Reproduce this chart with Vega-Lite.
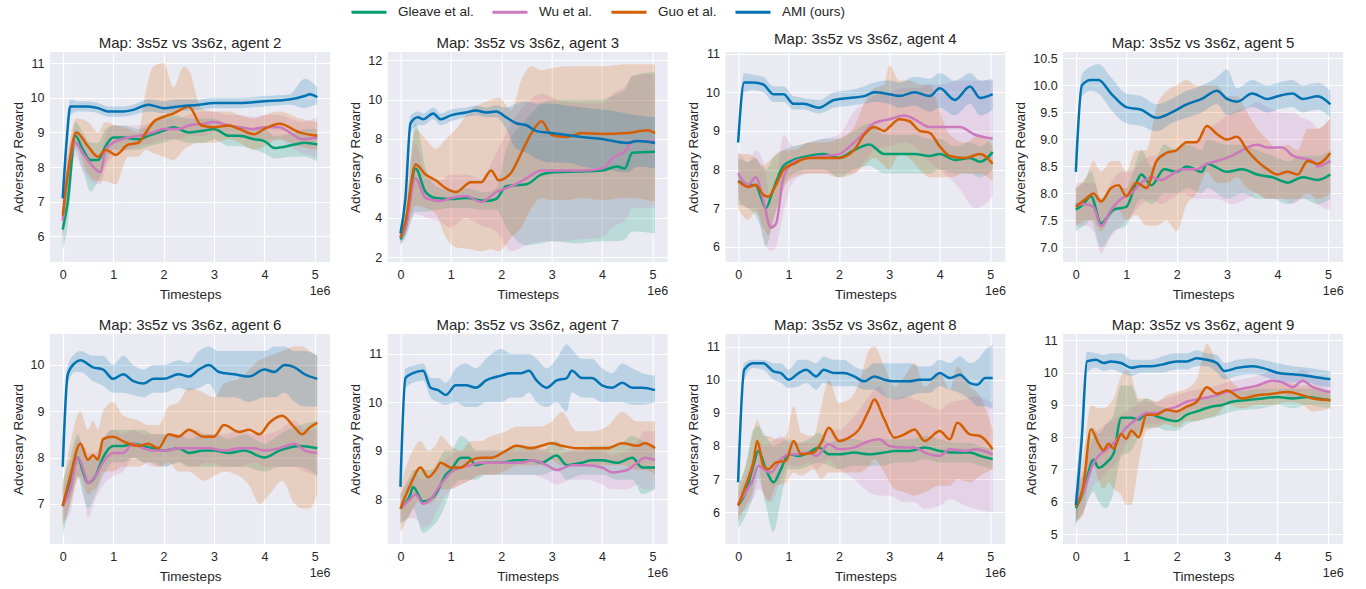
{
"$schema":"https://vega.github.io/schema/vega-lite/v6.json",
"padding":{"left":11,"top":-7,"right":5,"bottom":5},
"columns":4,
"spacing":{"row":72,"column":57.7},
"bounds":"flush",
"datasets":{
"a2":[
{"s":"G","x":0,"m":6.2,"l":5.6,"h":6.8},{"s":"G","x":0.1,"m":7.0,"l":6.3,"h":7.6},{"s":"G","x":0.25,"m":8.9,"l":8.5,"h":9.3},{"s":"G","x":0.4,"m":8.5,"l":7.9,"h":9.0},{"s":"G","x":0.55,"m":8.2,"l":7.3,"h":8.7},{"s":"G","x":0.7,"m":8.2,"l":7.6,"h":8.7},{"s":"G","x":0.85,"m":8.6,"l":8.1,"h":9.1},{"s":"G","x":1.0,"m":8.85,"l":8.5,"h":9.2},{"s":"G","x":1.2,"m":8.85,"l":8.5,"h":9.2},{"s":"G","x":1.5,"m":8.8,"l":8.5,"h":9.1},{"s":"G","x":1.7,"m":8.9,"l":8.6,"h":9.2},{"s":"G","x":2.0,"m":9.05,"l":8.7,"h":9.5},{"s":"G","x":2.2,"m":9.15,"l":8.8,"h":9.5},{"s":"G","x":2.5,"m":9.0,"l":8.7,"h":9.4},{"s":"G","x":2.8,"m":9.05,"l":8.7,"h":9.4},{"s":"G","x":3.0,"m":9.1,"l":8.8,"h":9.4},{"s":"G","x":3.3,"m":8.9,"l":8.6,"h":9.2},{"s":"G","x":3.5,"m":8.9,"l":8.6,"h":9.2},{"s":"G","x":3.8,"m":8.8,"l":8.5,"h":9.1},{"s":"G","x":4.0,"m":8.75,"l":8.4,"h":9.1},{"s":"G","x":4.2,"m":8.55,"l":8.25,"h":8.9},{"s":"G","x":4.6,"m":8.65,"l":8.3,"h":9.0},{"s":"G","x":4.8,"m":8.7,"l":8.3,"h":9.1},{"s":"G","x":5.05,"m":8.65,"l":8.15,"h":9.1},
{"s":"W","x":0,"m":6.45,"l":5.8,"h":7.0},{"s":"W","x":0.1,"m":7.8,"l":7.2,"h":8.3},{"s":"W","x":0.25,"m":8.7,"l":8.3,"h":9.1},{"s":"W","x":0.4,"m":8.4,"l":7.9,"h":8.9},{"s":"W","x":0.55,"m":8.1,"l":7.6,"h":8.6},{"s":"W","x":0.75,"m":7.85,"l":7.5,"h":8.3},{"s":"W","x":0.85,"m":8.5,"l":8.0,"h":8.9},{"s":"W","x":1.0,"m":8.7,"l":8.3,"h":9.2},{"s":"W","x":1.3,"m":8.85,"l":8.5,"h":9.2},{"s":"W","x":1.5,"m":8.9,"l":8.6,"h":9.2},{"s":"W","x":1.8,"m":9.0,"l":8.7,"h":9.3},{"s":"W","x":2.0,"m":9.1,"l":8.8,"h":9.4},{"s":"W","x":2.3,"m":9.1,"l":8.8,"h":9.4},{"s":"W","x":2.5,"m":9.2,"l":8.9,"h":9.5},{"s":"W","x":2.8,"m":9.25,"l":8.9,"h":9.6},{"s":"W","x":3.0,"m":9.3,"l":9.0,"h":9.6},{"s":"W","x":3.3,"m":9.2,"l":8.9,"h":9.5},{"s":"W","x":3.5,"m":9.15,"l":8.85,"h":9.5},{"s":"W","x":3.8,"m":9.1,"l":8.8,"h":9.45},{"s":"W","x":4.0,"m":9.15,"l":8.8,"h":9.5},{"s":"W","x":4.3,"m":9.15,"l":8.8,"h":9.5},{"s":"W","x":4.5,"m":9.0,"l":8.6,"h":9.4},{"s":"W","x":4.75,"m":8.8,"l":8.4,"h":9.3},{"s":"W","x":5.05,"m":8.85,"l":8.3,"h":9.45},
{"s":"O","x":0,"m":6.6,"l":5.9,"h":7.2},{"s":"O","x":0.1,"m":7.8,"l":7.2,"h":8.4},{"s":"O","x":0.27,"m":9.0,"l":8.6,"h":9.4},{"s":"O","x":0.5,"m":8.6,"l":7.8,"h":9.3},{"s":"O","x":0.7,"m":8.3,"l":7.6,"h":9.0},{"s":"O","x":0.85,"m":8.5,"l":7.6,"h":9.3},{"s":"O","x":1.05,"m":8.35,"l":7.5,"h":9.2},{"s":"O","x":1.3,"m":8.65,"l":8.3,"h":9.1},{"s":"O","x":1.5,"m":8.7,"l":8.3,"h":9.0},{"s":"O","x":1.65,"m":9.0,"l":8.5,"h":10.2},{"s":"O","x":1.8,"m":9.3,"l":8.4,"h":10.9},{"s":"O","x":2.0,"m":9.45,"l":8.3,"h":11.0},{"s":"O","x":2.2,"m":9.55,"l":8.2,"h":10.3},{"s":"O","x":2.4,"m":9.7,"l":8.5,"h":10.9},{"s":"O","x":2.5,"m":9.75,"l":8.6,"h":10.8},{"s":"O","x":2.75,"m":9.2,"l":8.7,"h":9.7},{"s":"O","x":3.0,"m":9.15,"l":8.7,"h":9.6},{"s":"O","x":3.3,"m":9.2,"l":8.8,"h":9.6},{"s":"O","x":3.5,"m":9.1,"l":8.7,"h":9.5},{"s":"O","x":3.8,"m":8.95,"l":8.5,"h":9.4},{"s":"O","x":4.0,"m":9.1,"l":8.6,"h":9.5},{"s":"O","x":4.3,"m":9.25,"l":8.8,"h":9.6},{"s":"O","x":4.7,"m":9.0,"l":8.6,"h":9.4},{"s":"O","x":5.05,"m":8.9,"l":8.5,"h":9.3},
{"s":"A","x":0,"m":7.1,"l":6.9,"h":7.3},{"s":"A","x":0.08,"m":8.8,"l":8.5,"h":9.1},{"s":"A","x":0.15,"m":9.75,"l":9.5,"h":9.95},{"s":"A","x":0.3,"m":9.75,"l":9.6,"h":9.9},{"s":"A","x":0.5,"m":9.75,"l":9.6,"h":9.9},{"s":"A","x":0.7,"m":9.7,"l":9.55,"h":9.85},{"s":"A","x":0.9,"m":9.6,"l":9.45,"h":9.75},{"s":"A","x":1.2,"m":9.6,"l":9.45,"h":9.75},{"s":"A","x":1.4,"m":9.65,"l":9.5,"h":9.8},{"s":"A","x":1.7,"m":9.8,"l":9.6,"h":9.95},{"s":"A","x":2.0,"m":9.7,"l":9.55,"h":9.9},{"s":"A","x":2.3,"m":9.75,"l":9.6,"h":9.95},{"s":"A","x":2.7,"m":9.8,"l":9.65,"h":9.95},{"s":"A","x":3.0,"m":9.85,"l":9.7,"h":10.0},{"s":"A","x":3.5,"m":9.85,"l":9.7,"h":10.0},{"s":"A","x":4.0,"m":9.9,"l":9.75,"h":10.05},{"s":"A","x":4.5,"m":9.95,"l":9.8,"h":10.1},{"s":"A","x":4.8,"m":10.05,"l":9.7,"h":10.55},{"s":"A","x":4.9,"m":10.1,"l":9.75,"h":10.5},{"s":"A","x":5.05,"m":10.02,"l":9.8,"h":10.3}
],
"a3":[
{"s":"G","x":0,"m":2.9,"l":2.6,"h":3.2},{"s":"G","x":0.1,"m":3.5,"l":3.0,"h":4.0},{"s":"G","x":0.3,"m":6.5,"l":4.3,"h":8.8},{"s":"G","x":0.5,"m":5.3,"l":4.3,"h":6.5},{"s":"G","x":0.7,"m":5.0,"l":4.4,"h":5.6},{"s":"G","x":1.0,"m":4.95,"l":4.5,"h":5.4},{"s":"G","x":1.3,"m":5.0,"l":4.5,"h":5.5},{"s":"G","x":1.7,"m":4.85,"l":4.4,"h":5.3},{"s":"G","x":1.9,"m":4.95,"l":4.4,"h":5.5},{"s":"G","x":2.1,"m":5.6,"l":3.5,"h":7.5},{"s":"G","x":2.5,"m":5.7,"l":2.6,"h":9.0},{"s":"G","x":2.8,"m":6.2,"l":2.7,"h":9.8},{"s":"G","x":3.0,"m":6.3,"l":2.8,"h":10.0},{"s":"G","x":3.5,"m":6.35,"l":2.7,"h":10.0},{"s":"G","x":4.0,"m":6.4,"l":2.8,"h":10.0},{"s":"G","x":4.3,"m":6.6,"l":2.8,"h":10.3},{"s":"G","x":4.45,"m":6.5,"l":2.9,"h":10.5},{"s":"G","x":4.6,"m":7.3,"l":3.3,"h":11.2},{"s":"G","x":5.05,"m":7.35,"l":3.2,"h":11.4},
{"s":"W","x":0,"m":3.0,"l":2.7,"h":3.3},{"s":"W","x":0.1,"m":3.5,"l":3.0,"h":4.0},{"s":"W","x":0.3,"m":6.0,"l":4.2,"h":7.8},{"s":"W","x":0.5,"m":5.0,"l":4.0,"h":6.0},{"s":"W","x":0.8,"m":4.85,"l":3.8,"h":5.9},{"s":"W","x":1.0,"m":5.0,"l":3.5,"h":6.2},{"s":"W","x":1.3,"m":5.1,"l":4.0,"h":6.2},{"s":"W","x":1.6,"m":4.8,"l":3.6,"h":6.0},{"s":"W","x":1.9,"m":5.3,"l":3.3,"h":7.3},{"s":"W","x":2.2,"m":5.6,"l":2.3,"h":8.8},{"s":"W","x":2.5,"m":6.0,"l":2.6,"h":9.8},{"s":"W","x":2.8,"m":6.4,"l":2.8,"h":10.3},{"s":"W","x":3.2,"m":6.4,"l":2.8,"h":9.9},{"s":"W","x":3.6,"m":6.4,"l":2.9,"h":9.8},{"s":"W","x":4.0,"m":6.5,"l":3.0,"h":9.8},{"s":"W","x":4.2,"m":7.0,"l":3.5,"h":10.3},{"s":"W","x":4.5,"m":7.5,"l":4.0,"h":10.8},{"s":"W","x":4.6,"m":7.9,"l":4.5,"h":11.2},{"s":"W","x":5.05,"m":7.9,"l":4.5,"h":11.3},
{"s":"O","x":0,"m":3.0,"l":2.7,"h":3.3},{"s":"O","x":0.1,"m":3.8,"l":3.2,"h":4.4},{"s":"O","x":0.3,"m":6.7,"l":4.6,"h":8.5},{"s":"O","x":0.5,"m":6.2,"l":4.5,"h":8.0},{"s":"O","x":0.7,"m":5.9,"l":4.2,"h":7.5},{"s":"O","x":0.9,"m":5.5,"l":3.0,"h":8.0},{"s":"O","x":1.1,"m":5.3,"l":2.5,"h":8.5},{"s":"O","x":1.4,"m":5.8,"l":2.4,"h":9.5},{"s":"O","x":1.6,"m":5.8,"l":2.3,"h":9.8},{"s":"O","x":1.8,"m":6.4,"l":2.4,"h":10.0},{"s":"O","x":1.95,"m":5.9,"l":2.3,"h":10.1},{"s":"O","x":2.2,"m":6.3,"l":3.0,"h":9.5},{"s":"O","x":2.4,"m":7.3,"l":3.5,"h":11.0},{"s":"O","x":2.6,"m":8.3,"l":4.5,"h":11.7},{"s":"O","x":2.8,"m":8.9,"l":5.0,"h":11.5},{"s":"O","x":3.0,"m":8.2,"l":4.9,"h":11.6},{"s":"O","x":3.3,"m":8.1,"l":4.9,"h":11.7},{"s":"O","x":3.6,"m":8.3,"l":5.0,"h":11.7},{"s":"O","x":4.0,"m":8.25,"l":4.9,"h":11.7},{"s":"O","x":4.5,"m":8.3,"l":5.0,"h":11.8},{"s":"O","x":4.9,"m":8.45,"l":4.9,"h":11.8},{"s":"O","x":5.05,"m":8.3,"l":4.8,"h":11.8},
{"s":"A","x":0,"m":3.2,"l":2.9,"h":3.5},{"s":"A","x":0.1,"m":5.0,"l":4.5,"h":5.5},{"s":"A","x":0.2,"m":8.8,"l":8.3,"h":9.2},{"s":"A","x":0.35,"m":9.1,"l":8.7,"h":9.4},{"s":"A","x":0.45,"m":9.0,"l":8.7,"h":9.3},{"s":"A","x":0.65,"m":9.3,"l":9.0,"h":9.6},{"s":"A","x":0.8,"m":9.0,"l":8.7,"h":9.3},{"s":"A","x":1.0,"m":9.2,"l":8.9,"h":9.5},{"s":"A","x":1.3,"m":9.35,"l":9.1,"h":9.6},{"s":"A","x":1.5,"m":9.45,"l":9.2,"h":9.7},{"s":"A","x":1.7,"m":9.35,"l":9.1,"h":9.6},{"s":"A","x":1.9,"m":9.4,"l":9.1,"h":9.7},{"s":"A","x":2.1,"m":9.1,"l":8.5,"h":9.6},{"s":"A","x":2.3,"m":8.8,"l":7.5,"h":9.8},{"s":"A","x":2.5,"m":8.7,"l":7.3,"h":9.9},{"s":"A","x":2.7,"m":8.4,"l":7.0,"h":9.8},{"s":"A","x":3.0,"m":8.3,"l":6.8,"h":9.8},{"s":"A","x":3.3,"m":8.2,"l":6.8,"h":9.7},{"s":"A","x":3.6,"m":8.1,"l":6.6,"h":9.6},{"s":"A","x":4.0,"m":8.0,"l":6.5,"h":9.5},{"s":"A","x":4.5,"m":7.8,"l":6.3,"h":9.3},{"s":"A","x":4.7,"m":7.9,"l":6.6,"h":9.2},{"s":"A","x":5.05,"m":7.8,"l":6.5,"h":9.1}
],
"a4":[
{"s":"G","x":0,"m":7.7,"l":7.1,"h":8.3},{"s":"G","x":0.2,"m":7.6,"l":7.0,"h":8.2},{"s":"G","x":0.35,"m":7.6,"l":6.8,"h":8.3},{"s":"G","x":0.45,"m":7.3,"l":6.5,"h":8.1},{"s":"G","x":0.55,"m":7.0,"l":6.0,"h":8.0},{"s":"G","x":0.7,"m":7.5,"l":6.7,"h":8.3},{"s":"G","x":0.9,"m":8.1,"l":7.6,"h":8.5},{"s":"G","x":1.1,"m":8.25,"l":7.9,"h":8.6},{"s":"G","x":1.4,"m":8.35,"l":8.0,"h":8.7},{"s":"G","x":1.7,"m":8.4,"l":8.0,"h":8.8},{"s":"G","x":2.0,"m":8.3,"l":7.8,"h":8.8},{"s":"G","x":2.3,"m":8.5,"l":8.0,"h":9.0},{"s":"G","x":2.6,"m":8.65,"l":8.1,"h":9.2},{"s":"G","x":2.9,"m":8.4,"l":7.9,"h":8.9},{"s":"G","x":3.2,"m":8.4,"l":7.9,"h":8.9},{"s":"G","x":3.5,"m":8.4,"l":7.9,"h":8.9},{"s":"G","x":3.8,"m":8.35,"l":7.9,"h":8.8},{"s":"G","x":4.0,"m":8.4,"l":8.0,"h":8.8},{"s":"G","x":4.3,"m":8.25,"l":7.9,"h":8.6},{"s":"G","x":4.6,"m":8.3,"l":7.9,"h":8.7},{"s":"G","x":4.8,"m":8.2,"l":7.8,"h":8.6},{"s":"G","x":5.05,"m":8.45,"l":8.0,"h":8.9},
{"s":"W","x":0,"m":7.9,"l":7.3,"h":8.5},{"s":"W","x":0.2,"m":7.6,"l":7.0,"h":8.2},{"s":"W","x":0.35,"m":7.8,"l":7.0,"h":8.5},{"s":"W","x":0.5,"m":7.2,"l":6.2,"h":8.2},{"s":"W","x":0.65,"m":6.5,"l":5.9,"h":7.2},{"s":"W","x":0.75,"m":6.6,"l":6.0,"h":7.6},{"s":"W","x":0.9,"m":7.8,"l":6.9,"h":8.9},{"s":"W","x":1.1,"m":8.2,"l":7.7,"h":8.6},{"s":"W","x":1.4,"m":8.3,"l":7.9,"h":8.7},{"s":"W","x":1.7,"m":8.35,"l":7.9,"h":8.8},{"s":"W","x":2.0,"m":8.4,"l":7.9,"h":8.9},{"s":"W","x":2.3,"m":8.7,"l":7.9,"h":9.5},{"s":"W","x":2.5,"m":8.95,"l":8.2,"h":9.7},{"s":"W","x":2.7,"m":9.2,"l":8.5,"h":9.9},{"s":"W","x":3.0,"m":9.3,"l":8.6,"h":10.0},{"s":"W","x":3.3,"m":9.4,"l":8.7,"h":10.1},{"s":"W","x":3.5,"m":9.3,"l":8.6,"h":10.1},{"s":"W","x":3.8,"m":9.1,"l":8.2,"h":10.2},{"s":"W","x":4.0,"m":9.1,"l":8.0,"h":10.2},{"s":"W","x":4.4,"m":9.1,"l":7.5,"h":10.3},{"s":"W","x":4.7,"m":8.9,"l":7.0,"h":10.3},{"s":"W","x":5.05,"m":8.8,"l":7.3,"h":10.3},
{"s":"O","x":0,"m":7.7,"l":7.0,"h":8.4},{"s":"O","x":0.2,"m":7.55,"l":6.7,"h":8.4},{"s":"O","x":0.35,"m":7.6,"l":6.9,"h":8.3},{"s":"O","x":0.5,"m":7.35,"l":6.5,"h":8.1},{"s":"O","x":0.6,"m":7.3,"l":6.3,"h":8.2},{"s":"O","x":0.75,"m":7.6,"l":6.9,"h":8.4},{"s":"O","x":0.9,"m":8.0,"l":7.5,"h":8.5},{"s":"O","x":1.1,"m":8.15,"l":7.8,"h":8.5},{"s":"O","x":1.4,"m":8.3,"l":7.9,"h":8.7},{"s":"O","x":1.7,"m":8.3,"l":7.9,"h":8.7},{"s":"O","x":2.0,"m":8.3,"l":7.8,"h":8.8},{"s":"O","x":2.3,"m":8.5,"l":7.9,"h":9.1},{"s":"O","x":2.5,"m":8.9,"l":8.1,"h":9.7},{"s":"O","x":2.7,"m":9.1,"l":8.3,"h":10.1},{"s":"O","x":2.9,"m":9.0,"l":8.1,"h":10.2},{"s":"O","x":3.0,"m":9.1,"l":8.0,"h":10.7},{"s":"O","x":3.2,"m":9.3,"l":8.4,"h":10.3},{"s":"O","x":3.4,"m":9.25,"l":8.3,"h":10.3},{"s":"O","x":3.6,"m":9.0,"l":8.0,"h":10.2},{"s":"O","x":3.8,"m":8.95,"l":7.8,"h":10.2},{"s":"O","x":4.0,"m":8.6,"l":7.8,"h":9.5},{"s":"O","x":4.2,"m":8.35,"l":7.8,"h":8.9},{"s":"O","x":4.5,"m":8.3,"l":7.9,"h":8.7},{"s":"O","x":4.8,"m":8.4,"l":7.9,"h":8.9},{"s":"O","x":5.05,"m":8.15,"l":7.7,"h":8.6},
{"s":"A","x":0,"m":8.7,"l":8.5,"h":8.9},{"s":"A","x":0.12,"m":10.25,"l":10.0,"h":10.5},{"s":"A","x":0.3,"m":10.25,"l":10.05,"h":10.45},{"s":"A","x":0.5,"m":10.2,"l":10.0,"h":10.4},{"s":"A","x":0.7,"m":9.95,"l":9.75,"h":10.15},{"s":"A","x":0.9,"m":9.95,"l":9.75,"h":10.15},{"s":"A","x":1.1,"m":9.7,"l":9.55,"h":9.9},{"s":"A","x":1.3,"m":9.7,"l":9.55,"h":9.85},{"s":"A","x":1.6,"m":9.6,"l":9.45,"h":9.8},{"s":"A","x":1.9,"m":9.8,"l":9.6,"h":10.0},{"s":"A","x":2.2,"m":9.85,"l":9.65,"h":10.05},{"s":"A","x":2.5,"m":9.9,"l":9.7,"h":10.15},{"s":"A","x":2.7,"m":10.0,"l":9.75,"h":10.25},{"s":"A","x":3.0,"m":9.95,"l":9.7,"h":10.3},{"s":"A","x":3.2,"m":9.9,"l":9.6,"h":10.25},{"s":"A","x":3.5,"m":10.0,"l":9.65,"h":10.4},{"s":"A","x":3.8,"m":9.9,"l":9.5,"h":10.35},{"s":"A","x":4.0,"m":10.1,"l":9.6,"h":10.5},{"s":"A","x":4.3,"m":9.8,"l":9.4,"h":10.3},{"s":"A","x":4.6,"m":10.15,"l":9.7,"h":10.5},{"s":"A","x":4.8,"m":9.85,"l":9.4,"h":10.3},{"s":"A","x":5.05,"m":9.95,"l":9.55,"h":10.35}
],
"a5":[
{"s":"G","x":0,"m":7.7,"l":7.3,"h":8.1},{"s":"G","x":0.15,"m":7.8,"l":7.4,"h":8.2},{"s":"G","x":0.3,"m":7.95,"l":7.5,"h":8.4},{"s":"G","x":0.5,"m":7.45,"l":7.0,"h":7.9},{"s":"G","x":0.75,"m":7.7,"l":7.3,"h":8.1},{"s":"G","x":1.0,"m":7.75,"l":7.4,"h":8.1},{"s":"G","x":1.2,"m":8.2,"l":7.8,"h":8.6},{"s":"G","x":1.3,"m":8.35,"l":7.9,"h":8.8},{"s":"G","x":1.5,"m":8.15,"l":7.8,"h":8.5},{"s":"G","x":1.75,"m":8.45,"l":8.0,"h":8.9},{"s":"G","x":2.0,"m":8.4,"l":8.0,"h":8.8},{"s":"G","x":2.2,"m":8.5,"l":8.1,"h":8.9},{"s":"G","x":2.5,"m":8.4,"l":8.0,"h":8.8},{"s":"G","x":2.6,"m":8.55,"l":8.1,"h":9.0},{"s":"G","x":3.0,"m":8.4,"l":7.9,"h":8.9},{"s":"G","x":3.3,"m":8.45,"l":8.0,"h":8.9},{"s":"G","x":3.6,"m":8.35,"l":7.9,"h":8.8},{"s":"G","x":3.9,"m":8.3,"l":7.9,"h":8.7},{"s":"G","x":4.2,"m":8.2,"l":7.8,"h":8.6},{"s":"G","x":4.5,"m":8.3,"l":7.9,"h":8.7},{"s":"G","x":4.8,"m":8.25,"l":7.8,"h":8.7},{"s":"G","x":5.05,"m":8.35,"l":7.9,"h":8.8},
{"s":"W","x":0,"m":7.8,"l":7.4,"h":8.2},{"s":"W","x":0.2,"m":7.8,"l":7.4,"h":8.2},{"s":"W","x":0.35,"m":7.75,"l":7.3,"h":8.2},{"s":"W","x":0.5,"m":7.4,"l":6.9,"h":7.9},{"s":"W","x":0.7,"m":7.7,"l":7.2,"h":8.2},{"s":"W","x":0.9,"m":7.9,"l":7.4,"h":8.4},{"s":"W","x":1.1,"m":8.0,"l":7.6,"h":8.4},{"s":"W","x":1.3,"m":8.2,"l":7.8,"h":8.6},{"s":"W","x":1.5,"m":8.3,"l":7.9,"h":8.7},{"s":"W","x":1.7,"m":8.25,"l":7.8,"h":8.7},{"s":"W","x":1.9,"m":8.35,"l":7.9,"h":8.8},{"s":"W","x":2.1,"m":8.45,"l":8.0,"h":8.9},{"s":"W","x":2.4,"m":8.45,"l":7.9,"h":9.0},{"s":"W","x":2.6,"m":8.55,"l":7.9,"h":9.2},{"s":"W","x":2.8,"m":8.6,"l":7.9,"h":9.3},{"s":"W","x":3.1,"m":8.7,"l":7.8,"h":9.5},{"s":"W","x":3.4,"m":8.85,"l":7.9,"h":9.6},{"s":"W","x":3.6,"m":8.9,"l":8.0,"h":9.7},{"s":"W","x":3.8,"m":8.85,"l":7.9,"h":9.6},{"s":"W","x":4.1,"m":8.85,"l":7.9,"h":9.5},{"s":"W","x":4.3,"m":8.7,"l":7.8,"h":9.5},{"s":"W","x":4.5,"m":8.65,"l":7.9,"h":9.4},{"s":"W","x":4.7,"m":8.6,"l":7.9,"h":9.3},{"s":"W","x":4.8,"m":8.5,"l":7.8,"h":9.2},{"s":"W","x":5.05,"m":8.6,"l":7.7,"h":9.4},
{"s":"O","x":0,"m":7.75,"l":7.4,"h":8.1},{"s":"O","x":0.2,"m":7.9,"l":7.5,"h":8.3},{"s":"O","x":0.35,"m":8.0,"l":7.5,"h":8.6},{"s":"O","x":0.5,"m":7.85,"l":7.3,"h":8.4},{"s":"O","x":0.7,"m":8.1,"l":7.6,"h":8.6},{"s":"O","x":0.85,"m":8.15,"l":7.7,"h":8.6},{"s":"O","x":1.0,"m":7.95,"l":7.5,"h":8.4},{"s":"O","x":1.2,"m":8.2,"l":7.6,"h":8.8},{"s":"O","x":1.4,"m":8.1,"l":7.4,"h":8.8},{"s":"O","x":1.6,"m":8.6,"l":7.4,"h":9.6},{"s":"O","x":1.8,"m":8.75,"l":7.5,"h":9.9},{"s":"O","x":2.0,"m":8.8,"l":7.3,"h":10.0},{"s":"O","x":2.2,"m":8.95,"l":7.8,"h":10.1},{"s":"O","x":2.4,"m":8.95,"l":8.0,"h":10.0},{"s":"O","x":2.6,"m":9.25,"l":8.4,"h":10.0},{"s":"O","x":2.8,"m":9.1,"l":8.2,"h":10.0},{"s":"O","x":3.0,"m":9.0,"l":8.2,"h":9.8},{"s":"O","x":3.2,"m":9.05,"l":8.3,"h":9.8},{"s":"O","x":3.4,"m":8.8,"l":8.1,"h":9.5},{"s":"O","x":3.6,"m":8.6,"l":8.0,"h":9.2},{"s":"O","x":3.8,"m":8.45,"l":7.9,"h":9.0},{"s":"O","x":4.0,"m":8.35,"l":7.9,"h":8.8},{"s":"O","x":4.2,"m":8.4,"l":7.9,"h":8.9},{"s":"O","x":4.4,"m":8.35,"l":7.9,"h":8.8},{"s":"O","x":4.6,"m":8.6,"l":8.0,"h":9.2},{"s":"O","x":4.8,"m":8.55,"l":7.9,"h":9.2},{"s":"O","x":5.05,"m":8.75,"l":8.0,"h":9.4},
{"s":"A","x":0,"m":8.4,"l":8.2,"h":8.6},{"s":"A","x":0.12,"m":10.0,"l":9.8,"h":10.2},{"s":"A","x":0.3,"m":10.1,"l":9.9,"h":10.35},{"s":"A","x":0.45,"m":10.1,"l":9.85,"h":10.4},{"s":"A","x":0.7,"m":9.85,"l":9.55,"h":10.15},{"s":"A","x":1.0,"m":9.6,"l":9.3,"h":9.85},{"s":"A","x":1.3,"m":9.55,"l":9.25,"h":9.8},{"s":"A","x":1.6,"m":9.4,"l":9.15,"h":9.65},{"s":"A","x":1.9,"m":9.5,"l":9.3,"h":9.75},{"s":"A","x":2.2,"m":9.65,"l":9.4,"h":9.9},{"s":"A","x":2.5,"m":9.75,"l":9.5,"h":10.0},{"s":"A","x":2.8,"m":9.9,"l":9.65,"h":10.15},{"s":"A","x":3.0,"m":9.75,"l":9.45,"h":10.3},{"s":"A","x":3.2,"m":9.7,"l":9.5,"h":9.95},{"s":"A","x":3.5,"m":9.85,"l":9.6,"h":10.1},{"s":"A","x":3.8,"m":9.75,"l":9.5,"h":10.0},{"s":"A","x":4.0,"m":9.8,"l":9.55,"h":10.05},{"s":"A","x":4.3,"m":9.85,"l":9.6,"h":10.1},{"s":"A","x":4.5,"m":9.75,"l":9.5,"h":10.0},{"s":"A","x":4.8,"m":9.8,"l":9.55,"h":10.05},{"s":"A","x":5.05,"m":9.65,"l":9.4,"h":9.9}
],
"a6":[
{"s":"G","x":0,"m":6.95,"l":6.3,"h":7.5},{"s":"G","x":0.15,"m":7.5,"l":7.0,"h":8.0},{"s":"G","x":0.3,"m":8.0,"l":7.6,"h":8.5},{"s":"G","x":0.4,"m":7.7,"l":7.2,"h":8.2},{"s":"G","x":0.5,"m":7.45,"l":6.9,"h":8.0},{"s":"G","x":0.65,"m":7.6,"l":7.2,"h":8.0},{"s":"G","x":0.8,"m":8.0,"l":7.6,"h":8.4},{"s":"G","x":1.0,"m":8.25,"l":7.9,"h":8.6},{"s":"G","x":1.2,"m":8.25,"l":7.9,"h":8.6},{"s":"G","x":1.4,"m":8.3,"l":8.0,"h":8.6},{"s":"G","x":1.6,"m":8.25,"l":7.9,"h":8.6},{"s":"G","x":1.8,"m":8.2,"l":7.9,"h":8.5},{"s":"G","x":2.0,"m":8.15,"l":7.8,"h":8.5},{"s":"G","x":2.3,"m":8.2,"l":7.9,"h":8.5},{"s":"G","x":2.5,"m":8.1,"l":7.8,"h":8.4},{"s":"G","x":2.8,"m":8.15,"l":7.8,"h":8.5},{"s":"G","x":3.0,"m":8.15,"l":7.8,"h":8.5},{"s":"G","x":3.3,"m":8.1,"l":7.8,"h":8.4},{"s":"G","x":3.6,"m":8.15,"l":7.8,"h":8.5},{"s":"G","x":4.0,"m":8.0,"l":7.7,"h":8.3},{"s":"G","x":4.3,"m":8.15,"l":7.8,"h":8.5},{"s":"G","x":4.7,"m":8.25,"l":7.8,"h":8.7},{"s":"G","x":5.05,"m":8.2,"l":7.6,"h":8.8},
{"s":"W","x":0,"m":6.95,"l":6.6,"h":7.3},{"s":"W","x":0.15,"m":7.3,"l":6.8,"h":7.8},{"s":"W","x":0.3,"m":8.0,"l":7.6,"h":8.4},{"s":"W","x":0.45,"m":7.6,"l":7.0,"h":8.2},{"s":"W","x":0.5,"m":7.45,"l":6.7,"h":8.1},{"s":"W","x":0.65,"m":7.6,"l":7.1,"h":8.1},{"s":"W","x":0.8,"m":7.9,"l":7.4,"h":8.4},{"s":"W","x":1.0,"m":8.1,"l":7.6,"h":8.6},{"s":"W","x":1.2,"m":8.1,"l":7.7,"h":8.5},{"s":"W","x":1.4,"m":8.3,"l":8.0,"h":8.6},{"s":"W","x":1.6,"m":8.2,"l":7.9,"h":8.5},{"s":"W","x":1.8,"m":8.15,"l":7.8,"h":8.5},{"s":"W","x":2.0,"m":8.15,"l":7.8,"h":8.5},{"s":"W","x":2.3,"m":8.2,"l":7.9,"h":8.5},{"s":"W","x":2.6,"m":8.2,"l":7.8,"h":8.6},{"s":"W","x":2.9,"m":8.2,"l":7.9,"h":8.5},{"s":"W","x":3.2,"m":8.15,"l":7.8,"h":8.5},{"s":"W","x":3.5,"m":8.2,"l":7.8,"h":8.6},{"s":"W","x":3.8,"m":8.2,"l":7.9,"h":8.5},{"s":"W","x":4.0,"m":8.15,"l":7.8,"h":8.5},{"s":"W","x":4.3,"m":8.2,"l":7.8,"h":8.6},{"s":"W","x":4.6,"m":8.3,"l":7.8,"h":8.8},{"s":"W","x":4.8,"m":8.15,"l":7.7,"h":8.6},{"s":"W","x":5.05,"m":8.1,"l":7.6,"h":8.6},
{"s":"O","x":0,"m":6.95,"l":6.5,"h":7.4},{"s":"O","x":0.15,"m":7.6,"l":7.0,"h":8.3},{"s":"O","x":0.35,"m":8.3,"l":7.6,"h":9.0},{"s":"O","x":0.5,"m":7.95,"l":7.2,"h":8.6},{"s":"O","x":0.6,"m":8.05,"l":7.3,"h":8.8},{"s":"O","x":0.7,"m":7.95,"l":7.4,"h":8.6},{"s":"O","x":0.8,"m":8.4,"l":7.7,"h":9.0},{"s":"O","x":1.0,"m":8.45,"l":7.7,"h":9.2},{"s":"O","x":1.2,"m":8.35,"l":7.8,"h":8.9},{"s":"O","x":1.5,"m":8.25,"l":7.8,"h":8.8},{"s":"O","x":1.7,"m":8.3,"l":7.9,"h":8.7},{"s":"O","x":1.9,"m":8.2,"l":7.8,"h":8.7},{"s":"O","x":2.1,"m":8.5,"l":7.9,"h":9.1},{"s":"O","x":2.3,"m":8.45,"l":7.7,"h":9.2},{"s":"O","x":2.5,"m":8.6,"l":7.7,"h":9.5},{"s":"O","x":2.8,"m":8.45,"l":7.5,"h":9.4},{"s":"O","x":3.0,"m":8.45,"l":7.6,"h":9.3},{"s":"O","x":3.2,"m":8.7,"l":7.7,"h":9.6},{"s":"O","x":3.5,"m":8.55,"l":7.6,"h":9.7},{"s":"O","x":3.7,"m":8.6,"l":7.4,"h":9.9},{"s":"O","x":3.9,"m":8.5,"l":7.0,"h":10.1},{"s":"O","x":4.1,"m":8.75,"l":7.2,"h":10.2},{"s":"O","x":4.35,"m":8.9,"l":7.5,"h":10.3},{"s":"O","x":4.6,"m":8.65,"l":7.0,"h":10.4},{"s":"O","x":4.75,"m":8.5,"l":6.9,"h":10.4},{"s":"O","x":4.9,"m":8.65,"l":6.9,"h":10.3},{"s":"O","x":5.05,"m":8.75,"l":7.2,"h":10.2},
{"s":"A","x":0,"m":7.8,"l":7.6,"h":8.0},{"s":"A","x":0.1,"m":9.8,"l":9.6,"h":10.0},{"s":"A","x":0.25,"m":10.05,"l":9.85,"h":10.25},{"s":"A","x":0.35,"m":10.1,"l":9.85,"h":10.3},{"s":"A","x":0.6,"m":9.95,"l":9.65,"h":10.2},{"s":"A","x":0.8,"m":9.9,"l":9.55,"h":10.2},{"s":"A","x":1.0,"m":9.7,"l":9.4,"h":10.0},{"s":"A","x":1.2,"m":9.8,"l":9.4,"h":10.2},{"s":"A","x":1.4,"m":9.65,"l":9.35,"h":10.0},{"s":"A","x":1.6,"m":9.6,"l":9.3,"h":9.9},{"s":"A","x":1.8,"m":9.7,"l":9.4,"h":10.0},{"s":"A","x":2.0,"m":9.7,"l":9.4,"h":10.0},{"s":"A","x":2.3,"m":9.8,"l":9.5,"h":10.1},{"s":"A","x":2.5,"m":9.75,"l":9.45,"h":10.05},{"s":"A","x":2.7,"m":9.9,"l":9.5,"h":10.3},{"s":"A","x":2.9,"m":10.0,"l":9.6,"h":10.4},{"s":"A","x":3.1,"m":9.85,"l":9.3,"h":10.3},{"s":"A","x":3.4,"m":9.8,"l":9.3,"h":10.3},{"s":"A","x":3.7,"m":9.75,"l":9.2,"h":10.3},{"s":"A","x":4.0,"m":9.9,"l":9.3,"h":10.3},{"s":"A","x":4.2,"m":9.85,"l":9.3,"h":10.4},{"s":"A","x":4.4,"m":10.0,"l":9.4,"h":10.4},{"s":"A","x":4.6,"m":9.95,"l":9.2,"h":10.3},{"s":"A","x":4.8,"m":9.8,"l":9.1,"h":10.3},{"s":"A","x":5.05,"m":9.7,"l":9.1,"h":10.2}
],
"a7":[
{"s":"G","x":0,"m":7.8,"l":7.5,"h":8.1},{"s":"G","x":0.2,"m":8.1,"l":7.7,"h":8.5},{"s":"G","x":0.25,"m":8.25,"l":7.8,"h":8.6},{"s":"G","x":0.45,"m":7.95,"l":7.3,"h":8.6},{"s":"G","x":0.6,"m":8.0,"l":7.4,"h":8.6},{"s":"G","x":0.7,"m":8.1,"l":7.5,"h":8.7},{"s":"G","x":0.9,"m":8.5,"l":7.9,"h":9.0},{"s":"G","x":1.0,"m":8.6,"l":8.2,"h":9.0},{"s":"G","x":1.2,"m":8.85,"l":8.4,"h":9.3},{"s":"G","x":1.35,"m":8.85,"l":8.4,"h":9.2},{"s":"G","x":1.5,"m":8.7,"l":8.4,"h":9.0},{"s":"G","x":1.7,"m":8.75,"l":8.5,"h":9.0},{"s":"G","x":2.0,"m":8.75,"l":8.5,"h":9.0},{"s":"G","x":2.3,"m":8.8,"l":8.5,"h":9.1},{"s":"G","x":2.6,"m":8.8,"l":8.5,"h":9.1},{"s":"G","x":2.8,"m":8.75,"l":8.5,"h":9.0},{"s":"G","x":3.1,"m":8.9,"l":8.6,"h":9.2},{"s":"G","x":3.3,"m":8.7,"l":8.4,"h":9.0},{"s":"G","x":3.6,"m":8.75,"l":8.5,"h":9.0},{"s":"G","x":3.8,"m":8.8,"l":8.5,"h":9.1},{"s":"G","x":4.0,"m":8.8,"l":8.5,"h":9.1},{"s":"G","x":4.3,"m":8.75,"l":8.4,"h":9.1},{"s":"G","x":4.6,"m":8.85,"l":8.4,"h":9.3},{"s":"G","x":4.8,"m":8.65,"l":8.1,"h":9.2},{"s":"G","x":5.05,"m":8.65,"l":8.2,"h":9.1},
{"s":"W","x":0,"m":7.8,"l":7.5,"h":8.1},{"s":"W","x":0.2,"m":8.0,"l":7.6,"h":8.4},{"s":"W","x":0.3,"m":8.1,"l":7.6,"h":8.5},{"s":"W","x":0.45,"m":7.9,"l":7.4,"h":8.4},{"s":"W","x":0.6,"m":8.0,"l":7.5,"h":8.5},{"s":"W","x":0.8,"m":8.3,"l":7.9,"h":8.7},{"s":"W","x":1.0,"m":8.55,"l":8.2,"h":8.9},{"s":"W","x":1.2,"m":8.65,"l":8.3,"h":9.0},{"s":"W","x":1.4,"m":8.7,"l":8.4,"h":9.0},{"s":"W","x":1.6,"m":8.75,"l":8.5,"h":9.0},{"s":"W","x":2.0,"m":8.75,"l":8.5,"h":9.0},{"s":"W","x":2.4,"m":8.75,"l":8.5,"h":9.0},{"s":"W","x":2.6,"m":8.8,"l":8.5,"h":9.1},{"s":"W","x":2.9,"m":8.7,"l":8.4,"h":9.0},{"s":"W","x":3.1,"m":8.6,"l":8.3,"h":8.9},{"s":"W","x":3.4,"m":8.7,"l":8.4,"h":9.0},{"s":"W","x":3.7,"m":8.7,"l":8.4,"h":9.0},{"s":"W","x":4.0,"m":8.65,"l":8.3,"h":9.0},{"s":"W","x":4.2,"m":8.55,"l":8.2,"h":8.9},{"s":"W","x":4.5,"m":8.6,"l":8.2,"h":9.0},{"s":"W","x":4.7,"m":8.75,"l":8.3,"h":9.2},{"s":"W","x":4.85,"m":8.85,"l":8.2,"h":9.4},{"s":"W","x":5.05,"m":8.8,"l":8.2,"h":9.4},
{"s":"O","x":0,"m":7.8,"l":7.3,"h":8.3},{"s":"O","x":0.2,"m":8.3,"l":7.7,"h":8.9},{"s":"O","x":0.4,"m":8.65,"l":8.0,"h":9.2},{"s":"O","x":0.55,"m":8.45,"l":7.9,"h":9.0},{"s":"O","x":0.7,"m":8.6,"l":8.0,"h":9.1},{"s":"O","x":0.8,"m":8.75,"l":8.2,"h":9.3},{"s":"O","x":1.0,"m":8.65,"l":8.2,"h":9.1},{"s":"O","x":1.2,"m":8.65,"l":8.3,"h":9.0},{"s":"O","x":1.4,"m":8.8,"l":8.4,"h":9.2},{"s":"O","x":1.6,"m":8.85,"l":8.5,"h":9.2},{"s":"O","x":1.8,"m":8.85,"l":8.5,"h":9.3},{"s":"O","x":2.1,"m":9.0,"l":8.6,"h":9.4},{"s":"O","x":2.3,"m":9.1,"l":8.7,"h":9.5},{"s":"O","x":2.6,"m":9.05,"l":8.7,"h":9.5},{"s":"O","x":2.8,"m":9.1,"l":8.7,"h":9.5},{"s":"O","x":3.0,"m":9.15,"l":8.8,"h":9.6},{"s":"O","x":3.2,"m":9.1,"l":8.7,"h":9.8},{"s":"O","x":3.5,"m":9.05,"l":8.7,"h":9.4},{"s":"O","x":3.8,"m":9.05,"l":8.7,"h":9.4},{"s":"O","x":4.1,"m":9.05,"l":8.7,"h":9.5},{"s":"O","x":4.4,"m":9.15,"l":8.7,"h":9.8},{"s":"O","x":4.7,"m":9.1,"l":8.6,"h":9.6},{"s":"O","x":4.85,"m":9.15,"l":8.6,"h":9.6},{"s":"O","x":5.05,"m":9.05,"l":8.5,"h":9.6},
{"s":"A","x":0,"m":8.25,"l":8.1,"h":8.4},{"s":"A","x":0.1,"m":10.5,"l":10.3,"h":10.7},{"s":"A","x":0.25,"m":10.6,"l":10.4,"h":10.75},{"s":"A","x":0.45,"m":10.65,"l":10.45,"h":10.8},{"s":"A","x":0.6,"m":10.3,"l":10.1,"h":10.5},{"s":"A","x":0.75,"m":10.25,"l":10.0,"h":10.5},{"s":"A","x":0.9,"m":10.15,"l":9.95,"h":10.4},{"s":"A","x":1.1,"m":10.35,"l":10.0,"h":10.7},{"s":"A","x":1.3,"m":10.35,"l":9.9,"h":10.8},{"s":"A","x":1.5,"m":10.3,"l":9.9,"h":10.7},{"s":"A","x":1.7,"m":10.45,"l":10.0,"h":10.9},{"s":"A","x":2.0,"m":10.55,"l":10.0,"h":11.1},{"s":"A","x":2.2,"m":10.6,"l":10.1,"h":11.0},{"s":"A","x":2.4,"m":10.6,"l":10.1,"h":11.0},{"s":"A","x":2.55,"m":10.65,"l":10.2,"h":11.0},{"s":"A","x":2.7,"m":10.45,"l":10.0,"h":10.9},{"s":"A","x":2.9,"m":10.3,"l":9.9,"h":10.7},{"s":"A","x":3.1,"m":10.45,"l":10.0,"h":10.9},{"s":"A","x":3.3,"m":10.5,"l":9.8,"h":11.2},{"s":"A","x":3.4,"m":10.65,"l":10.2,"h":11.1},{"s":"A","x":3.6,"m":10.5,"l":10.1,"h":10.9},{"s":"A","x":3.8,"m":10.5,"l":10.1,"h":10.9},{"s":"A","x":4.0,"m":10.35,"l":10.0,"h":10.7},{"s":"A","x":4.2,"m":10.3,"l":10.0,"h":10.6},{"s":"A","x":4.4,"m":10.4,"l":10.0,"h":10.8},{"s":"A","x":4.6,"m":10.3,"l":9.95,"h":10.7},{"s":"A","x":4.8,"m":10.3,"l":9.95,"h":10.6},{"s":"A","x":5.05,"m":10.25,"l":10.0,"h":10.55}
],
"a8":[
{"s":"G","x":0,"m":6.2,"l":5.5,"h":6.8},{"s":"G","x":0.15,"m":6.6,"l":5.9,"h":7.4},{"s":"G","x":0.3,"m":7.4,"l":6.5,"h":8.5},{"s":"G","x":0.4,"m":7.85,"l":7.0,"h":8.6},{"s":"G","x":0.55,"m":7.3,"l":6.2,"h":8.3},{"s":"G","x":0.7,"m":6.9,"l":5.4,"h":8.0},{"s":"G","x":0.85,"m":7.3,"l":6.4,"h":8.1},{"s":"G","x":1.0,"m":7.75,"l":7.3,"h":8.2},{"s":"G","x":1.2,"m":7.7,"l":7.3,"h":8.1},{"s":"G","x":1.4,"m":7.8,"l":7.4,"h":8.2},{"s":"G","x":1.6,"m":7.95,"l":7.5,"h":8.4},{"s":"G","x":1.8,"m":7.75,"l":7.4,"h":8.1},{"s":"G","x":2.0,"m":7.75,"l":7.3,"h":8.2},{"s":"G","x":2.3,"m":7.8,"l":7.4,"h":8.2},{"s":"G","x":2.6,"m":7.75,"l":7.4,"h":8.1},{"s":"G","x":2.9,"m":7.8,"l":7.4,"h":8.2},{"s":"G","x":3.1,"m":7.85,"l":7.5,"h":8.2},{"s":"G","x":3.4,"m":7.85,"l":7.5,"h":8.2},{"s":"G","x":3.7,"m":7.95,"l":7.6,"h":8.3},{"s":"G","x":4.0,"m":7.85,"l":7.5,"h":8.2},{"s":"G","x":4.3,"m":7.8,"l":7.5,"h":8.1},{"s":"G","x":4.6,"m":7.8,"l":7.5,"h":8.1},{"s":"G","x":4.8,"m":7.7,"l":7.4,"h":8.0},{"s":"G","x":5.05,"m":7.6,"l":7.3,"h":7.9},
{"s":"W","x":0,"m":6.25,"l":5.9,"h":6.6},{"s":"W","x":0.15,"m":6.6,"l":6.1,"h":7.1},{"s":"W","x":0.3,"m":7.0,"l":6.4,"h":7.6},{"s":"W","x":0.4,"m":7.4,"l":6.7,"h":8.1},{"s":"W","x":0.55,"m":7.25,"l":6.5,"h":8.0},{"s":"W","x":0.65,"m":7.2,"l":6.3,"h":8.1},{"s":"W","x":0.85,"m":7.6,"l":7.0,"h":8.3},{"s":"W","x":1.0,"m":7.75,"l":7.4,"h":8.1},{"s":"W","x":1.2,"m":7.75,"l":7.4,"h":8.1},{"s":"W","x":1.4,"m":7.8,"l":7.5,"h":8.1},{"s":"W","x":1.55,"m":7.7,"l":7.3,"h":8.1},{"s":"W","x":1.8,"m":8.05,"l":7.6,"h":8.5},{"s":"W","x":2.0,"m":7.9,"l":7.3,"h":8.5},{"s":"W","x":2.3,"m":7.95,"l":7.0,"h":8.9},{"s":"W","x":2.6,"m":8.15,"l":6.6,"h":9.5},{"s":"W","x":2.8,"m":8.2,"l":6.5,"h":9.8},{"s":"W","x":3.0,"m":8.0,"l":6.5,"h":9.4},{"s":"W","x":3.3,"m":7.95,"l":6.3,"h":9.5},{"s":"W","x":3.5,"m":7.95,"l":6.3,"h":9.4},{"s":"W","x":3.7,"m":7.8,"l":6.1,"h":9.3},{"s":"W","x":4.0,"m":7.7,"l":6.2,"h":9.1},{"s":"W","x":4.2,"m":7.9,"l":6.4,"h":9.3},{"s":"W","x":4.5,"m":7.85,"l":6.2,"h":9.4},{"s":"W","x":4.7,"m":7.9,"l":6.1,"h":9.5},{"s":"W","x":5.05,"m":7.75,"l":6.0,"h":9.3},
{"s":"O","x":0,"m":6.2,"l":5.7,"h":6.8},{"s":"O","x":0.15,"m":6.8,"l":6.2,"h":7.4},{"s":"O","x":0.3,"m":7.5,"l":6.7,"h":8.4},{"s":"O","x":0.38,"m":8.15,"l":7.5,"h":8.8},{"s":"O","x":0.5,"m":7.4,"l":6.6,"h":8.3},{"s":"O","x":0.6,"m":7.3,"l":6.3,"h":8.3},{"s":"O","x":0.75,"m":7.5,"l":6.8,"h":8.2},{"s":"O","x":0.95,"m":7.55,"l":6.9,"h":8.3},{"s":"O","x":1.1,"m":8.15,"l":7.2,"h":9.2},{"s":"O","x":1.25,"m":7.75,"l":7.1,"h":8.4},{"s":"O","x":1.5,"m":7.8,"l":7.3,"h":8.3},{"s":"O","x":1.65,"m":8.1,"l":7.0,"h":9.2},{"s":"O","x":1.8,"m":8.55,"l":7.2,"h":10.0},{"s":"O","x":2.0,"m":8.15,"l":7.2,"h":9.3},{"s":"O","x":2.2,"m":8.25,"l":7.2,"h":9.4},{"s":"O","x":2.4,"m":8.5,"l":7.2,"h":9.9},{"s":"O","x":2.6,"m":9.1,"l":7.4,"h":10.9},{"s":"O","x":2.7,"m":9.4,"l":7.6,"h":11.0},{"s":"O","x":2.9,"m":8.8,"l":7.2,"h":10.4},{"s":"O","x":3.1,"m":8.25,"l":6.7,"h":9.8},{"s":"O","x":3.3,"m":8.35,"l":6.6,"h":10.1},{"s":"O","x":3.5,"m":8.5,"l":6.5,"h":10.5},{"s":"O","x":3.7,"m":8.15,"l":6.6,"h":9.8},{"s":"O","x":4.0,"m":8.45,"l":6.8,"h":10.2},{"s":"O","x":4.2,"m":8.2,"l":6.8,"h":9.7},{"s":"O","x":4.35,"m":8.7,"l":7.0,"h":10.4},{"s":"O","x":4.6,"m":8.35,"l":6.9,"h":9.8},{"s":"O","x":4.8,"m":8.3,"l":7.1,"h":9.5},{"s":"O","x":5.05,"m":7.9,"l":7.3,"h":8.5},
{"s":"A","x":0,"m":6.9,"l":6.7,"h":7.1},{"s":"A","x":0.12,"m":10.3,"l":10.0,"h":10.5},{"s":"A","x":0.3,"m":10.5,"l":10.35,"h":10.6},{"s":"A","x":0.5,"m":10.5,"l":10.3,"h":10.6},{"s":"A","x":0.7,"m":10.25,"l":10.0,"h":10.5},{"s":"A","x":0.85,"m":10.2,"l":9.9,"h":10.5},{"s":"A","x":1.0,"m":10.0,"l":9.75,"h":10.3},{"s":"A","x":1.2,"m":10.2,"l":9.8,"h":10.6},{"s":"A","x":1.35,"m":10.3,"l":9.9,"h":10.6},{"s":"A","x":1.55,"m":10.1,"l":9.7,"h":10.5},{"s":"A","x":1.7,"m":10.3,"l":9.9,"h":10.7},{"s":"A","x":1.9,"m":10.2,"l":9.8,"h":10.6},{"s":"A","x":2.1,"m":10.2,"l":9.8,"h":10.6},{"s":"A","x":2.3,"m":10.1,"l":9.8,"h":10.4},{"s":"A","x":2.5,"m":9.95,"l":9.7,"h":10.3},{"s":"A","x":2.7,"m":10.1,"l":9.7,"h":10.5},{"s":"A","x":2.9,"m":10.0,"l":9.5,"h":10.5},{"s":"A","x":3.1,"m":9.95,"l":9.4,"h":10.5},{"s":"A","x":3.4,"m":9.95,"l":9.5,"h":10.5},{"s":"A","x":3.6,"m":10.0,"l":9.6,"h":10.4},{"s":"A","x":3.8,"m":10.0,"l":9.6,"h":10.4},{"s":"A","x":4.0,"m":10.2,"l":9.8,"h":10.6},{"s":"A","x":4.2,"m":10.05,"l":9.7,"h":10.5},{"s":"A","x":4.4,"m":10.15,"l":9.6,"h":10.7},{"s":"A","x":4.6,"m":9.9,"l":9.4,"h":10.5},{"s":"A","x":4.75,"m":9.85,"l":9.2,"h":10.6},{"s":"A","x":4.9,"m":10.05,"l":9.2,"h":10.9},{"s":"A","x":5.05,"m":10.05,"l":9.1,"h":11.05}
],
"a9":[
{"s":"G","x":0,"m":5.8,"l":5.3,"h":6.3},{"s":"G","x":0.15,"m":6.3,"l":5.7,"h":6.9},{"s":"G","x":0.35,"m":7.3,"l":6.3,"h":8.3},{"s":"G","x":0.45,"m":7.05,"l":6.0,"h":8.1},{"s":"G","x":0.6,"m":7.2,"l":5.8,"h":8.4},{"s":"G","x":0.75,"m":7.5,"l":6.3,"h":8.7},{"s":"G","x":0.9,"m":8.6,"l":7.4,"h":9.6},{"s":"G","x":1.1,"m":8.6,"l":7.6,"h":9.6},{"s":"G","x":1.25,"m":8.55,"l":8.0,"h":9.1},{"s":"G","x":1.4,"m":8.75,"l":8.3,"h":9.2},{"s":"G","x":1.6,"m":8.65,"l":8.3,"h":9.0},{"s":"G","x":1.8,"m":8.55,"l":8.2,"h":8.9},{"s":"G","x":2.0,"m":8.5,"l":8.2,"h":8.8},{"s":"G","x":2.2,"m":8.7,"l":8.4,"h":9.0},{"s":"G","x":2.4,"m":8.8,"l":8.5,"h":9.1},{"s":"G","x":2.7,"m":8.95,"l":8.6,"h":9.3},{"s":"G","x":2.9,"m":9.0,"l":8.7,"h":9.3},{"s":"G","x":3.1,"m":9.1,"l":8.8,"h":9.4},{"s":"G","x":3.4,"m":9.15,"l":8.85,"h":9.45},{"s":"G","x":3.7,"m":9.2,"l":8.9,"h":9.5},{"s":"G","x":4.0,"m":9.25,"l":9.0,"h":9.5},{"s":"G","x":4.3,"m":9.2,"l":8.9,"h":9.5},{"s":"G","x":4.6,"m":9.25,"l":9.0,"h":9.5},{"s":"G","x":4.8,"m":9.2,"l":8.95,"h":9.45},{"s":"G","x":5.05,"m":9.15,"l":8.9,"h":9.4},
{"s":"W","x":0,"m":5.9,"l":5.4,"h":6.4},{"s":"W","x":0.15,"m":6.3,"l":5.7,"h":6.9},{"s":"W","x":0.35,"m":7.2,"l":6.5,"h":8.0},{"s":"W","x":0.5,"m":7.5,"l":6.7,"h":8.3},{"s":"W","x":0.6,"m":7.6,"l":6.9,"h":8.4},{"s":"W","x":0.8,"m":7.9,"l":7.2,"h":8.6},{"s":"W","x":1.0,"m":8.3,"l":7.8,"h":8.8},{"s":"W","x":1.2,"m":8.55,"l":8.1,"h":9.0},{"s":"W","x":1.4,"m":8.75,"l":8.4,"h":9.1},{"s":"W","x":1.6,"m":8.75,"l":8.4,"h":9.1},{"s":"W","x":1.8,"m":8.85,"l":8.5,"h":9.2},{"s":"W","x":2.0,"m":8.95,"l":8.6,"h":9.3},{"s":"W","x":2.2,"m":9.1,"l":8.8,"h":9.4},{"s":"W","x":2.5,"m":9.2,"l":8.9,"h":9.5},{"s":"W","x":2.8,"m":9.3,"l":9.0,"h":9.6},{"s":"W","x":3.0,"m":9.4,"l":9.1,"h":9.7},{"s":"W","x":3.3,"m":9.5,"l":9.2,"h":9.8},{"s":"W","x":3.6,"m":9.6,"l":9.3,"h":9.9},{"s":"W","x":3.9,"m":9.75,"l":9.45,"h":10.05},{"s":"W","x":4.1,"m":9.7,"l":9.4,"h":10.0},{"s":"W","x":4.3,"m":9.55,"l":9.2,"h":9.9},{"s":"W","x":4.5,"m":9.75,"l":9.4,"h":10.1},{"s":"W","x":4.7,"m":9.55,"l":9.2,"h":9.9},{"s":"W","x":4.9,"m":9.45,"l":9.1,"h":9.8},{"s":"W","x":5.05,"m":9.4,"l":9.1,"h":9.7},
{"s":"O","x":0,"m":5.85,"l":5.4,"h":6.3},{"s":"O","x":0.15,"m":6.5,"l":5.6,"h":7.4},{"s":"O","x":0.3,"m":8.25,"l":7.2,"h":9.0},{"s":"O","x":0.45,"m":7.8,"l":6.7,"h":8.9},{"s":"O","x":0.55,"m":7.6,"l":6.4,"h":8.9},{"s":"O","x":0.65,"m":7.8,"l":6.6,"h":9.0},{"s":"O","x":0.75,"m":7.65,"l":6.4,"h":9.2},{"s":"O","x":0.9,"m":8.1,"l":6.2,"h":9.9},{"s":"O","x":1.0,"m":7.95,"l":5.9,"h":10.1},{"s":"O","x":1.1,"m":8.2,"l":5.9,"h":9.9},{"s":"O","x":1.25,"m":8.0,"l":7.2,"h":9.2},{"s":"O","x":1.4,"m":8.7,"l":8.2,"h":9.2},{"s":"O","x":1.6,"m":8.7,"l":8.3,"h":9.1},{"s":"O","x":1.8,"m":8.85,"l":8.4,"h":9.3},{"s":"O","x":2.0,"m":8.8,"l":8.3,"h":9.4},{"s":"O","x":2.2,"m":8.95,"l":8.5,"h":9.5},{"s":"O","x":2.4,"m":9.1,"l":8.5,"h":9.8},{"s":"O","x":2.6,"m":9.55,"l":8.6,"h":10.9},{"s":"O","x":2.8,"m":9.35,"l":8.7,"h":10.3},{"s":"O","x":3.0,"m":9.45,"l":9.0,"h":9.9},{"s":"O","x":3.3,"m":9.2,"l":8.9,"h":9.5},{"s":"O","x":3.6,"m":9.3,"l":9.0,"h":9.6},{"s":"O","x":3.9,"m":9.35,"l":9.0,"h":9.7},{"s":"O","x":4.2,"m":9.4,"l":9.1,"h":9.7},{"s":"O","x":4.5,"m":9.3,"l":9.0,"h":9.6},{"s":"O","x":4.7,"m":9.2,"l":8.8,"h":9.6},{"s":"O","x":5.05,"m":9.15,"l":8.9,"h":9.4},
{"s":"A","x":0,"m":5.9,"l":5.0,"h":6.7},{"s":"A","x":0.12,"m":8.0,"l":7.4,"h":8.6},{"s":"A","x":0.22,"m":10.35,"l":10.0,"h":10.65},{"s":"A","x":0.4,"m":10.4,"l":10.15,"h":10.6},{"s":"A","x":0.55,"m":10.3,"l":10.05,"h":10.55},{"s":"A","x":0.7,"m":10.35,"l":10.1,"h":10.6},{"s":"A","x":0.9,"m":10.3,"l":10.0,"h":10.6},{"s":"A","x":1.1,"m":10.15,"l":9.9,"h":10.4},{"s":"A","x":1.3,"m":10.2,"l":10.0,"h":10.4},{"s":"A","x":1.5,"m":10.2,"l":10.0,"h":10.4},{"s":"A","x":1.7,"m":10.25,"l":10.0,"h":10.5},{"s":"A","x":2.0,"m":10.35,"l":10.1,"h":10.6},{"s":"A","x":2.2,"m":10.35,"l":10.1,"h":10.6},{"s":"A","x":2.4,"m":10.45,"l":10.2,"h":10.7},{"s":"A","x":2.6,"m":10.4,"l":10.2,"h":10.6},{"s":"A","x":2.8,"m":10.3,"l":10.0,"h":10.55},{"s":"A","x":2.95,"m":10.05,"l":9.8,"h":10.3},{"s":"A","x":3.2,"m":10.15,"l":9.9,"h":10.4},{"s":"A","x":3.5,"m":10.2,"l":9.95,"h":10.45},{"s":"A","x":3.7,"m":10.15,"l":9.9,"h":10.4},{"s":"A","x":4.0,"m":10.0,"l":9.75,"h":10.3},{"s":"A","x":4.3,"m":9.95,"l":9.7,"h":10.2},{"s":"A","x":4.6,"m":9.9,"l":9.7,"h":10.15},{"s":"A","x":4.8,"m":9.85,"l":9.6,"h":10.1},{"s":"A","x":5.05,"m":9.8,"l":9.55,"h":10.05}
]
},
"concat":[
{"title":"Map: 3s5z vs 3s6z, agent 2","width":280,"height":210,"data":{"name":"a2"},
"encoding":{"x":{"field":"x","type":"quantitative","scale":{"domain":[-0.2525,5.3025],"nice":false,"zero":false},"axis":{"title":"Timesteps","values":[0,1,2,3,4,5,5.3025],"labelExpr":"datum.value>5.2?['','1e6']:format(datum.value,'d')","labelAlign":{"condition":{"test":"datum.value>5.2","value":"right"},"value":"center"},"gridOpacity":{"condition":{"test":"datum.value>5.2","value":0},"value":1},"labelOverlap":false,"labelFlush":false,"labelLineHeight":16,"titleY":25}}},
"layer":[
{"mark":{"type":"area","fillOpacity":0.2,"interpolate":"monotone"},"encoding":{"y":{"field":"h","type":"quantitative","title":"Adversary Reward","scale":{"domain":[5.26,11.32],"nice":false,"zero":false}},"y2":{"field":"l"},"fill":{"field":"s","type":"nominal","scale":{"domain":["A","G","O","W"],"range":["#0173b2","#029e73","#d55e00","#cc78bc"]},"legend":null}}},
{"mark":{"type":"line","strokeWidth":2.5,"interpolate":"monotone"},"encoding":{"y":{"field":"m","type":"quantitative","title":"Adversary Reward"},"color":{"field":"s","type":"nominal","scale":{"domain":["G","W","O","A"],"range":["#029e73","#cc78bc","#d55e00","#0173b2"]},"legend":{"orient":"none","legendX":300,"legendY":-59,"direction":"horizontal","title":null,"symbolType":"stroke","symbolSize":1225,"symbolStrokeWidth":3,"symbolOpacity":1,"labelFontSize":13.5,"labelColor":"#262626","columnPadding":12,"labelOffset":10,"labelExpr":"datum.label=='G'?'Gleave et al.':datum.label=='W'?'Wu et al.':datum.label=='O'?'Guo et al.':'AMI (ours)'"}}}}
]},
{"title":"Map: 3s5z vs 3s6z, agent 3","width":280,"height":210,"data":{"name":"a3"},
"encoding":{"x":{"field":"x","type":"quantitative","scale":{"domain":[-0.2525,5.3025],"nice":false,"zero":false},"axis":{"title":"Timesteps","values":[0,1,2,3,4,5,5.3025],"labelExpr":"datum.value>5.2?['','1e6']:format(datum.value,'d')","labelAlign":{"condition":{"test":"datum.value>5.2","value":"right"},"value":"center"},"gridOpacity":{"condition":{"test":"datum.value>5.2","value":0},"value":1},"labelOverlap":false,"labelFlush":false,"labelLineHeight":16,"titleY":25}}},
"layer":[
{"mark":{"type":"area","fillOpacity":0.2,"interpolate":"monotone"},"encoding":{"y":{"field":"h","type":"quantitative","title":"Adversary Reward","scale":{"domain":[1.75,12.42],"nice":false,"zero":false}},"y2":{"field":"l"},"fill":{"field":"s","type":"nominal","scale":{"domain":["A","G","O","W"],"range":["#0173b2","#029e73","#d55e00","#cc78bc"]},"legend":null}}},
{"mark":{"type":"line","strokeWidth":2.5,"interpolate":"monotone"},"encoding":{"y":{"field":"m","type":"quantitative","title":"Adversary Reward"},"color":{"field":"s","type":"nominal","scale":{"domain":["G","W","O","A"],"range":["#029e73","#cc78bc","#d55e00","#0173b2"]}}}}
]},
{"title":"Map: 3s5z vs 3s6z, agent 4","width":280,"height":210,"data":{"name":"a4"},
"encoding":{"x":{"field":"x","type":"quantitative","scale":{"domain":[-0.2525,5.3025],"nice":false,"zero":false},"axis":{"title":"Timesteps","values":[0,1,2,3,4,5,5.3025],"labelExpr":"datum.value>5.2?['','1e6']:format(datum.value,'d')","labelAlign":{"condition":{"test":"datum.value>5.2","value":"right"},"value":"center"},"gridOpacity":{"condition":{"test":"datum.value>5.2","value":0},"value":1},"labelOverlap":false,"labelFlush":false,"labelLineHeight":16,"titleY":25}}},
"layer":[
{"mark":{"type":"area","fillOpacity":0.2,"interpolate":"monotone"},"encoding":{"y":{"field":"h","type":"quantitative","title":"Adversary Reward","scale":{"domain":[5.61,11.04],"nice":false,"zero":false}},"y2":{"field":"l"},"fill":{"field":"s","type":"nominal","scale":{"domain":["A","G","O","W"],"range":["#0173b2","#029e73","#d55e00","#cc78bc"]},"legend":null}}},
{"mark":{"type":"line","strokeWidth":2.5,"interpolate":"monotone"},"encoding":{"y":{"field":"m","type":"quantitative","title":"Adversary Reward"},"color":{"field":"s","type":"nominal","scale":{"domain":["G","W","O","A"],"range":["#029e73","#cc78bc","#d55e00","#0173b2"]}}}}
]},
{"title":"Map: 3s5z vs 3s6z, agent 5","width":280,"height":210,"data":{"name":"a5"},
"encoding":{"x":{"field":"x","type":"quantitative","scale":{"domain":[-0.2525,5.3025],"nice":false,"zero":false},"axis":{"title":"Timesteps","values":[0,1,2,3,4,5,5.3025],"labelExpr":"datum.value>5.2?['','1e6']:format(datum.value,'d')","labelAlign":{"condition":{"test":"datum.value>5.2","value":"right"},"value":"center"},"gridOpacity":{"condition":{"test":"datum.value>5.2","value":0},"value":1},"labelOverlap":false,"labelFlush":false,"labelLineHeight":16,"titleY":25}}},
"layer":[
{"mark":{"type":"area","fillOpacity":0.2,"interpolate":"monotone"},"encoding":{"y":{"field":"h","type":"quantitative","title":"Adversary Reward","scale":{"domain":[6.73,10.62],"nice":false,"zero":false}},"y2":{"field":"l"},"fill":{"field":"s","type":"nominal","scale":{"domain":["A","G","O","W"],"range":["#0173b2","#029e73","#d55e00","#cc78bc"]},"legend":null}}},
{"mark":{"type":"line","strokeWidth":2.5,"interpolate":"monotone"},"encoding":{"y":{"field":"m","type":"quantitative","title":"Adversary Reward"},"color":{"field":"s","type":"nominal","scale":{"domain":["G","W","O","A"],"range":["#029e73","#cc78bc","#d55e00","#0173b2"]}}}}
]},
{"title":"Map: 3s5z vs 3s6z, agent 6","width":280,"height":210,"data":{"name":"a6"},
"encoding":{"x":{"field":"x","type":"quantitative","scale":{"domain":[-0.2525,5.3025],"nice":false,"zero":false},"axis":{"title":"Timesteps","values":[0,1,2,3,4,5,5.3025],"labelExpr":"datum.value>5.2?['','1e6']:format(datum.value,'d')","labelAlign":{"condition":{"test":"datum.value>5.2","value":"right"},"value":"center"},"gridOpacity":{"condition":{"test":"datum.value>5.2","value":0},"value":1},"labelOverlap":false,"labelFlush":false,"labelLineHeight":16,"titleY":25}}},
"layer":[
{"mark":{"type":"area","fillOpacity":0.2,"interpolate":"monotone"},"encoding":{"y":{"field":"h","type":"quantitative","title":"Adversary Reward","scale":{"domain":[6.13,10.67],"nice":false,"zero":false}},"y2":{"field":"l"},"fill":{"field":"s","type":"nominal","scale":{"domain":["A","G","O","W"],"range":["#0173b2","#029e73","#d55e00","#cc78bc"]},"legend":null}}},
{"mark":{"type":"line","strokeWidth":2.5,"interpolate":"monotone"},"encoding":{"y":{"field":"m","type":"quantitative","title":"Adversary Reward"},"color":{"field":"s","type":"nominal","scale":{"domain":["G","W","O","A"],"range":["#029e73","#cc78bc","#d55e00","#0173b2"]}}}}
]},
{"title":"Map: 3s5z vs 3s6z, agent 7","width":280,"height":210,"data":{"name":"a7"},
"encoding":{"x":{"field":"x","type":"quantitative","scale":{"domain":[-0.2525,5.3025],"nice":false,"zero":false},"axis":{"title":"Timesteps","values":[0,1,2,3,4,5,5.3025],"labelExpr":"datum.value>5.2?['','1e6']:format(datum.value,'d')","labelAlign":{"condition":{"test":"datum.value>5.2","value":"right"},"value":"center"},"gridOpacity":{"condition":{"test":"datum.value>5.2","value":0},"value":1},"labelOverlap":false,"labelFlush":false,"labelLineHeight":16,"titleY":25}}},
"layer":[
{"mark":{"type":"area","fillOpacity":0.2,"interpolate":"monotone"},"encoding":{"y":{"field":"h","type":"quantitative","title":"Adversary Reward","scale":{"domain":[7.07,11.41],"nice":false,"zero":false}},"y2":{"field":"l"},"fill":{"field":"s","type":"nominal","scale":{"domain":["A","G","O","W"],"range":["#0173b2","#029e73","#d55e00","#cc78bc"]},"legend":null}}},
{"mark":{"type":"line","strokeWidth":2.5,"interpolate":"monotone"},"encoding":{"y":{"field":"m","type":"quantitative","title":"Adversary Reward"},"color":{"field":"s","type":"nominal","scale":{"domain":["G","W","O","A"],"range":["#029e73","#cc78bc","#d55e00","#0173b2"]}}}}
]},
{"title":"Map: 3s5z vs 3s6z, agent 8","width":280,"height":210,"data":{"name":"a8"},
"encoding":{"x":{"field":"x","type":"quantitative","scale":{"domain":[-0.2525,5.3025],"nice":false,"zero":false},"axis":{"title":"Timesteps","values":[0,1,2,3,4,5,5.3025],"labelExpr":"datum.value>5.2?['','1e6']:format(datum.value,'d')","labelAlign":{"condition":{"test":"datum.value>5.2","value":"right"},"value":"center"},"gridOpacity":{"condition":{"test":"datum.value>5.2","value":0},"value":1},"labelOverlap":false,"labelFlush":false,"labelLineHeight":16,"titleY":25}}},
"layer":[
{"mark":{"type":"area","fillOpacity":0.2,"interpolate":"monotone"},"encoding":{"y":{"field":"h","type":"quantitative","title":"Adversary Reward","scale":{"domain":[5.04,11.38],"nice":false,"zero":false}},"y2":{"field":"l"},"fill":{"field":"s","type":"nominal","scale":{"domain":["A","G","O","W"],"range":["#0173b2","#029e73","#d55e00","#cc78bc"]},"legend":null}}},
{"mark":{"type":"line","strokeWidth":2.5,"interpolate":"monotone"},"encoding":{"y":{"field":"m","type":"quantitative","title":"Adversary Reward"},"color":{"field":"s","type":"nominal","scale":{"domain":["G","W","O","A"],"range":["#029e73","#cc78bc","#d55e00","#0173b2"]}}}}
]},
{"title":"Map: 3s5z vs 3s6z, agent 9","width":280,"height":210,"data":{"name":"a9"},
"encoding":{"x":{"field":"x","type":"quantitative","scale":{"domain":[-0.2525,5.3025],"nice":false,"zero":false},"axis":{"title":"Timesteps","values":[0,1,2,3,4,5,5.3025],"labelExpr":"datum.value>5.2?['','1e6']:format(datum.value,'d')","labelAlign":{"condition":{"test":"datum.value>5.2","value":"right"},"value":"center"},"gridOpacity":{"condition":{"test":"datum.value>5.2","value":0},"value":1},"labelOverlap":false,"labelFlush":false,"labelLineHeight":16,"titleY":25}}},
"layer":[
{"mark":{"type":"area","fillOpacity":0.2,"interpolate":"monotone"},"encoding":{"y":{"field":"h","type":"quantitative","title":"Adversary Reward","scale":{"domain":[4.69,11.2],"nice":false,"zero":false}},"y2":{"field":"l"},"fill":{"field":"s","type":"nominal","scale":{"domain":["A","G","O","W"],"range":["#0173b2","#029e73","#d55e00","#cc78bc"]},"legend":null}}},
{"mark":{"type":"line","strokeWidth":2.5,"interpolate":"monotone"},"encoding":{"y":{"field":"m","type":"quantitative","title":"Adversary Reward"},"color":{"field":"s","type":"nominal","scale":{"domain":["G","W","O","A"],"range":["#029e73","#cc78bc","#d55e00","#0173b2"]}}}}
]}
],
"config":{
"font":"Liberation Sans",
"view":{"fill":"#eaeaf2","stroke":null},
"axis":{"domain":false,"ticks":false,"grid":true,"gridColor":"#ffffff","gridWidth":1.2,"labelColor":"#262626","titleColor":"#262626","labelFontSize":12.5,"titleFontSize":13.5,"titleFontWeight":"normal","labelPadding":6,"labelFont":"Liberation Sans","titleFont":"Liberation Sans"},
"axisX":{"titlePadding":2},
"axisY":{"titlePadding":5},
"title":{"fontSize":15,"fontWeight":"normal","color":"#262626","offset":1,"font":"Liberation Sans"},
"legend":{"labelFont":"Liberation Sans"}
}
}
